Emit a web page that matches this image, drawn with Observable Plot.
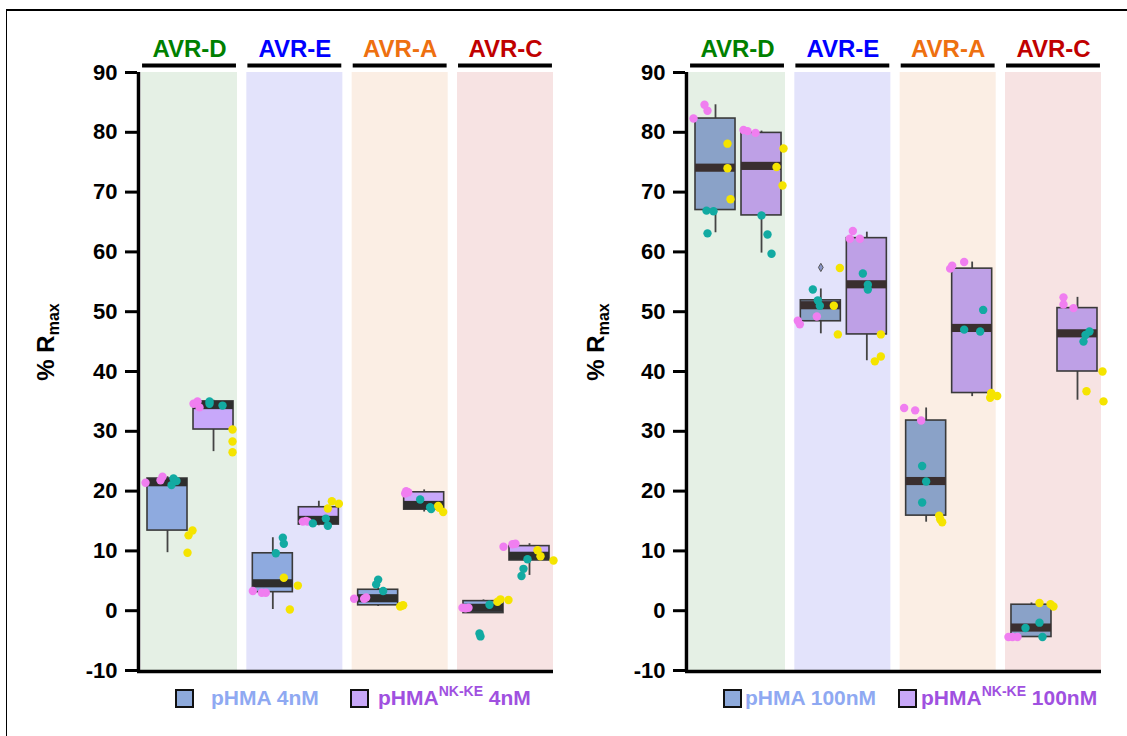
<!DOCTYPE html>
<html>
<head>
<meta charset="utf-8">
<script src="https://cdn.jsdelivr.net/npm/d3@7"></script>
<script src="https://cdn.jsdelivr.net/npm/@observablehq/plot@0.6"></script>
<style>
  body { margin: 0; background: #fff; font-family: "Liberation Sans", Arial, sans-serif; }
  #page { position: relative; width: 1127px; height: 736px; overflow: hidden; background: #fff; }
  #frame { position: absolute; left: 6px; top: 9px; width: 1200px; height: 800px; border-top: 2px solid #000; border-left: 1.5px solid #000; }
  .panel { position: absolute; top: 0; }
  .ylab { position: absolute; top: 342px; transform: translate(-50%, -50%) rotate(-90deg); white-space: nowrap; font-weight: bold; font-size: 24px; color: #000; }
  .ylab sub { font-size: 16px; vertical-align: baseline; position: relative; top: 5px; }
  .legend { position: absolute; top: 686px; font-weight: bold; font-size: 21px; white-space: nowrap; }
  .legend span.sw { position: absolute; top: 3px; width: 15px; height: 15px; border: 2px solid #111; }
  .legend span.t { position: absolute; top: 0; line-height: 24px; }
  .legend sup { font-size: 14px; vertical-align: baseline; position: relative; top: -9px; }
</style>
</head>
<body>
<div id="page">
  <div id="frame"></div>
</div>
<script>
// ---------- categories & labels ----------
const categories = ["AVR-D", "AVR-E", "AVR-A", "AVR-C"];
const categoryColors = ["#008000", "#0000ff", "#ee7010", "#c00000"];
const bandColors = ["#e5f0e5", "#e3e3fb", "#fbeee4", "#f7e3e3"];
const variants = ["pHMA", "pHMA NK-KE"];
const replicates = ["rep1", "rep2", "rep3"];
const replicateColors = ["#f07ef0", "#12aaa2", "#f5e400"];
const yTicks = [-10, 0, 10, 20, 30, 40, 50, 60, 70, 80, 90];

// box order: AVR-D pHMA, AVR-D NK-KE, AVR-E pHMA, AVR-E NK-KE, AVR-A pHMA, AVR-A NK-KE, AVR-C pHMA, AVR-C NK-KE

// ---------- 4 nM panel ----------
const q1_4nM  = [13.4, 30.3, 3.1, 14.4, 0.9, 16.9, -0.4, 8.4];
const med_4nM = [21.4, 34.3, 4.5, 15.1, 2.0, 17.6, 0.4, 9.1];
const q3_4nM  = [22.1, 35.0, 9.6, 17.3, 3.5, 19.8, 1.6, 10.8];
const lo_4nM  = [9.7, 26.6, 0.2, 14.2, 0.7, 16.5, -0.4, 5.9];
const hi_4nM  = [22.4, 35.2, 12.2, 18.3, 5.2, 20.2, 1.8, 11.2];
const rep1_4nM = [[21.4,21.8,22.4],[34.6,35.0,34.0],[3.3,3.0,3.0],[14.9,14.9,15.0],[2.0,2.0,2.2],[20.0,19.8,19.6],[0.5,0.5,0.4],[10.7,11.1,11.2]];
const rep1Jitter_4nM = [[-1.1,-0.35,-0.25],[-1.0,-0.8,-0.7],[-1.0,-0.55,-0.35],[-0.8,-0.55,-0.65],[-1.2,-0.7,-0.6],[-0.9,-0.8,-0.95],[-1.05,-0.75,-0.9],[-1.3,-0.85,-0.7]];
const rep2_4nM = [[22.1,21.0,21.7],[35.0,34.6,34.3],[12.2,11.2,9.6],[14.6,15.4,14.2],[5.2,4.4,3.3],[18.6,17.3,17.0],[1.0,-3.8,-4.3],[8.6,7.0,5.8]];
const rep2Jitter_4nM = [[0.3,0.2,0.45],[-0.2,-0.2,0.45],[0.5,0.55,0.15],[-0.3,0.35,0.45],[0.0,-0.1,0.25],[-0.2,0.3,0.35],[0.3,-0.2,-0.15],[-0.1,-0.3,-0.4]];
const rep3_4nM = [[13.4,12.6,9.7],[30.3,28.3,26.5],[5.5,4.2,0.2],[18.3,17.9,17.1],[0.7,0.9,0.8],[17.5,16.5,17.2],[1.5,1.9,1.8],[10.1,9.1,8.4]];
const rep3Jitter_4nM = [[1.25,1.05,1.0],[0.95,0.95,0.95],[0.55,1.25,0.85],[0.65,1.0,0.45],[1.1,1.25,1.15],[0.7,0.95,0.75],[0.7,0.85,1.25],[0.4,0.55,1.2]];
const outlierBox_4nM = [];
const outlierValue_4nM = [];

// ---------- 100 nM panel ----------
const q1_100nM  = [67.0, 66.1, 48.4, 46.2, 15.9, 36.4, -4.4, 40.0];
const med_100nM = [74.0, 74.3, 51.0, 54.5, 21.6, 47.2, -2.9, 46.3];
const q3_100nM  = [82.3, 79.9, 51.9, 62.3, 31.8, 57.2, 1.0, 50.6];
const lo_100nM  = [63.2, 59.8, 46.3, 41.8, 14.8, 35.8, -4.4, 35.2];
const hi_100nM  = [84.6, 80.2, 53.8, 63.3, 33.9, 58.3, 1.3, 52.4];
const rep1_100nM = [[82.3,84.6,83.6],[80.4,80.2,79.9],[48.5,47.9,49.2],[63.5,62.2,62.2],[33.9,33.5,31.8],[57.2,57.7,58.3],[-4.4,-4.4,-4.4],[52.4,51.2,50.6]];
const rep1Jitter_100nM = [[-1.1,-0.55,-0.4],[-0.9,-0.7,-0.3],[-1.15,-1.05,-0.2],[-0.7,-0.85,-0.35],[-1.1,-0.55,-0.25],[-1.1,-1.0,-0.4],[-1.15,-0.95,-0.7],[-0.7,-0.7,-0.2]];
const rep2_100nM = [[66.9,66.8,63.1],[66.1,62.9,59.7],[53.7,51.9,51.0],[56.4,54.5,53.7],[24.2,21.6,18.1],[50.3,47.0,46.7],[-2.0,-2.9,-4.4],[46.7,46.1,45.0]];
const rep2Jitter_100nM = [[-0.45,-0.1,-0.4],[0,0.3,0.5],[-0.4,-0.15,-0.05],[-0.2,0.05,0.05],[-0.2,0,-0.2],[0.55,-0.4,0.4],[0.4,-0.3,0.55],[0.6,0.4,0.3]];
const rep3_100nM = [[78.1,74.0,68.8],[77.3,74.2,71.1],[57.3,51.0,46.2],[46.2,42.5,41.7],[15.9,14.8,15.3],[36.4,35.9,35.6],[1.3,1.1,0.7],[40.0,36.7,35.0]];
const rep3Jitter_100nM = [[0.6,0.6,0.75],[1.1,0.75,1.05],[0.95,0.65,0.85],[0.7,0.7,0.4],[0.65,0.8,0.7],[0.95,1.25,0.9],[0.4,0.95,1.1],[1.25,0.45,1.3]];
const outlierBox_100nM = [2];
const outlierValue_100nM = [57.4];

// ---------- layout (code, not data) ----------
const STEP = 105.3;
const BW = 96 / STEP;           // band width in category units
const XMIN = -4 / STEP, XMAX = BW;
const OFFS = [26 / STEP, 72 / STEP]; // box centre inside band
const HW = 20 / STEP;           // box half width

function buildPanel(d) {
  const boxes = [];
  categories.forEach((c, i) => variants.forEach((v, j) => {
    const k = i * 2 + j;
    boxes.push({category: c, variant: v, k, q1: d.q1[k], med: d.med[k], q3: d.q3[k], lo: d.lo[k], hi: d.hi[k]});
  }));
  const pts = [];
  d.reps.forEach(([vals, jits], r) => vals.forEach((arr, k) => arr.forEach((v, n) =>
    pts.push({k, replicate: replicates[r], value: v, jit: jits[k][n]}))));
  const outliers = d.outBox.map((k, n) => ({k, value: d.outVal[n]}));
  const cx = k => Math.floor(k / 2) + OFFS[k % 2];
  return Plot.plot({
    width: 563, height: 680,
    marginLeft: 137, marginRight: 10, marginTop: 72, marginBottom: 10,
    x: {domain: [XMIN, 3 + XMAX], axis: null},
    y: {domain: [-10, 90], axis: null},
    color: {type: "identity"},
    style: {background: "transparent", fontFamily: "'Liberation Sans', Arial, sans-serif", overflow: "visible"},
    marks: [
      Plot.rect(categories, {x1: (c, i) => i, x2: (c, i) => i + BW, y1: -10, y2: 90, fill: (c, i) => bandColors[i]}),
      Plot.ruleY(categories, {x1: (c, i) => i + 0.01, x2: (c, i) => i + BW - 0.01, y: 90, dy: -7, stroke: "#000", strokeWidth: 4}),
      Plot.text(categories, {x: (c, i) => i + BW / 2, y: 90, dy: -16, text: c => c, fill: (c, i) => categoryColors[i],
        fontSize: 24, fontWeight: "bold", lineAnchor: "bottom"}),
      Plot.axisY({ticks: yTicks, tickSize: 12, tickPadding: 8, strokeWidth: 3, fontSize: 22, fontWeight: "bold",
        tickFormat: t => String(t), label: null, stroke: "#000", fill: "#000"}),
      Plot.ruleX([XMIN], {y1: -10, y2: 90, stroke: "#000", strokeWidth: 3.5, dx: 1}),
      Plot.ruleY([-10], {stroke: "#000", strokeWidth: 3.5, dy: 1}),
      Plot.ruleX(boxes, {x: b => cx(b.k), y1: "q3", y2: "hi", stroke: "#444", strokeWidth: 1.8}),
      Plot.ruleX(boxes, {x: b => cx(b.k), y1: "lo", y2: "q1", stroke: "#444", strokeWidth: 1.8}),
      Plot.rect(boxes, {x1: b => cx(b.k) - HW, x2: b => cx(b.k) + HW, y1: "q1", y2: "q3",
        fill: b => d.boxFill[b.k % 2], stroke: "#3a3a3a", strokeWidth: 1.6}),
      Plot.rect(boxes, {x1: b => cx(b.k) - HW, x2: b => cx(b.k) + HW,
        y1: b => Math.max(b.q1, b.med - 0.68), y2: b => Math.min(b.q3, b.med + 0.68), fill: d.medFill}),
      Plot.dot(outliers, {x: o => cx(o.k), y: "value", r: 2.5, fill: "#8a96c8", stroke: "#555", strokeWidth: 1, symbol: "diamond"}),
      Plot.dot(pts, {x: p => cx(p.k) + p.jit * HW, y: "value", r: 4.2,
        fill: p => replicateColors[replicates.indexOf(p.replicate)]})
    ]
  });
}

const page = document.getElementById("page");
function addPanel(left, d, ylabX) {
  const fig = buildPanel(d);
  fig.classList.add("panel");
  fig.style.left = left + "px";
  page.appendChild(fig);
  const yl = document.createElement("div");
  yl.className = "ylab";
  yl.style.left = ylabX + "px";
  yl.innerHTML = "% R<sub>max</sub>";
  page.appendChild(yl);
}

addPanel(0, {q1: q1_4nM, med: med_4nM, q3: q3_4nM, lo: lo_4nM, hi: hi_4nM,
  reps: [[rep1_4nM, rep1Jitter_4nM], [rep2_4nM, rep2Jitter_4nM], [rep3_4nM, rep3Jitter_4nM]],
  outBox: outlierBox_4nM, outVal: outlierValue_4nM,
  boxFill: ["#8eaadf", "#c8a8fa"], medFill: "#2e2e2e"}, 46);
addPanel(548, {q1: q1_100nM, med: med_100nM, q3: q3_100nM, lo: lo_100nM, hi: hi_100nM,
  reps: [[rep1_100nM, rep1Jitter_100nM], [rep2_100nM, rep2Jitter_100nM], [rep3_100nM, rep3Jitter_100nM]],
  outBox: outlierBox_100nM, outVal: outlierValue_100nM,
  boxFill: ["#8aa2c8", "#bea0e6"], medFill: "#3a2f2f"}, 596);

// ---------- legends ----------
const legendItems = [
  {x: 175, fill: "#8eaadb", tx: 211, color: "#8fa9f2", html: "pHMA 4nM"},
  {x: 350, fill: "#c8a8f8", tx: 378, color: "#a050e0", html: "pHMA<sup>NK-KE</sup> 4nM"},
  {x: 723, fill: "#8eaadb", tx: 745, color: "#8fa9f2", html: "pHMA 100nM"},
  {x: 898, fill: "#c8a8f8", tx: 921, color: "#a050e0", html: "pHMA<sup>NK-KE</sup> 100nM"}
];
const lg = document.createElement("div");
lg.className = "legend";
legendItems.forEach(it => {
  const sw = document.createElement("span");
  sw.className = "sw"; sw.style.left = it.x + "px"; sw.style.background = it.fill;
  const t = document.createElement("span");
  t.className = "t"; t.style.left = it.tx + "px"; t.style.color = it.color; t.innerHTML = it.html;
  lg.appendChild(sw); lg.appendChild(t);
});
page.appendChild(lg);
</script>
</body>
</html>
